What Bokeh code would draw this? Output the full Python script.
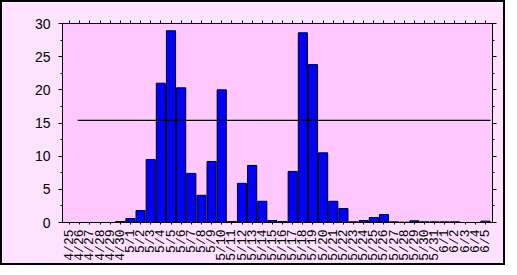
import numpy as np
from bokeh.plotting import figure
from bokeh.models import Range1d, FixedTicker, LinearAxis, CustomLabelingPolicy
from bokeh.embed import file_html
from bokeh.resources import INLINE

dates = ["4/25", "4/26", "4/27", "4/28", "4/29", "4/30",
         "5/1", "5/2", "5/3", "5/4", "5/5", "5/6", "5/7", "5/8", "5/9", "5/10",
         "5/11", "5/12", "5/13", "5/14", "5/15", "5/16", "5/17", "5/18", "5/19", "5/20",
         "5/21", "5/22", "5/23", "5/24", "5/25", "5/26", "5/27", "5/28", "5/29", "5/30",
         "5/31", "6/1", "6/2", "6/3", "6/4", "6/5"]
counts = [0, 0, 0, 0, 0, 0.15,
          0.6, 1.8, 9.5, 21.0, 28.9, 20.3, 7.4, 4.1, 9.2, 20.0,
          0.15, 5.9, 8.6, 3.2, 0.3, 0.15, 7.7, 28.6, 23.8, 10.5,
          3.2, 2.1, 0.1, 0.3, 0.75, 1.2, 0.1, 0.05, 0.25, 0.1,
          0.1, 0.1, 0.1, 0, 0, 0.2]
y_ticks = [0, 5, 10, 15, 20, 25, 30]
y_minor = [2.5, 7.5, 12.5, 17.5, 22.5, 27.5]
ref_level = 15.4
ref_span = [0.8, 41.5]

x = list(range(len(dates)))

no_labels = CustomLabelingPolicy(code="""
if (typeof indices.clear === "function") { indices.clear(); return indices }
for (const i of [...indices.ones()]) indices.unset(i)
return indices
""")

p = figure(width=505, height=265, output_backend="svg", toolbar_location=None,
           x_range=Range1d(-0.7, 41.7), y_range=Range1d(0, 30),
           min_border_left=60, min_border_right=15, min_border_top=21, min_border_bottom=45,
           background_fill_color="#FFC8FF", border_fill_color="#FFE2FF",
           outline_line_color="black",
           styles={"border": "2px solid #000000"})
p.grid.visible = False

p.vbar(x=x, top=counts, width=0.9, fill_color="#0000FF", line_color="#000000", line_width=1)
p.line(x=ref_span, y=[ref_level, ref_level], line_color="black", line_width=1.2)

# bottom axis
xa = p.xaxis[0]
xa.ticker = FixedTicker(ticks=x)
xa.major_label_overrides = {i: d for i, d in enumerate(dates)}
xa.major_label_orientation = np.pi / 2
xa.major_tick_out = 2
xa.major_tick_in = 0
xa.minor_tick_out = 0
xa.major_label_standoff = 5
xa.major_label_text_font = "Liberation Mono"
xa.major_label_text_font_size = "13px"
xa.major_label_text_color = "black"
xa.axis_line_color = "black"

# left axis
ya = p.yaxis[0]
ya.ticker = FixedTicker(ticks=y_ticks, minor_ticks=y_minor)
ya.major_tick_out = 4
ya.major_tick_in = 0
ya.minor_tick_out = 2
ya.minor_tick_in = 0
ya.major_label_standoff = 8
ya.major_label_text_font = "Liberation Sans"
ya.major_label_text_font_size = "14px"
ya.major_label_text_color = "black"
ya.axis_line_color = "black"

# right axis (ticks only)
ra = LinearAxis(ticker=FixedTicker(ticks=y_ticks, minor_ticks=y_minor))
ra.major_tick_out = 4
ra.major_tick_in = 0
ra.minor_tick_out = 2
ra.minor_tick_in = 0
ra.major_label_policy = no_labels
ra.major_label_text_font_size = "0px"
ra.major_label_standoff = 0
ra.axis_line_color = "black"
p.add_layout(ra, "right")

# top axis (ticks only)
ta = LinearAxis(ticker=FixedTicker(ticks=x))
ta.major_tick_out = 3
ta.major_tick_in = 0
ta.minor_tick_out = 0
ta.major_label_policy = no_labels
ta.major_label_text_font_size = "0px"
ta.major_label_standoff = 0
ta.axis_line_color = "black"
p.add_layout(ta, "above")

open("out.html", "w").write(file_html(p, INLINE))
